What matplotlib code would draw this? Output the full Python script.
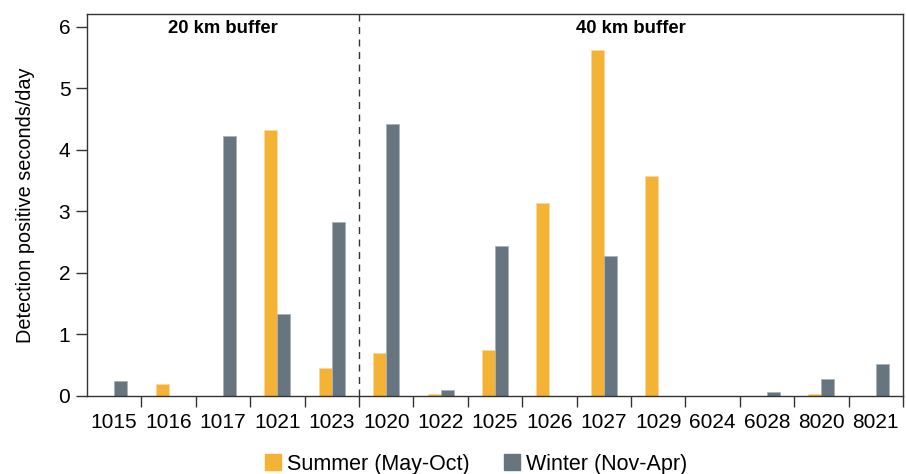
import numpy as np
import matplotlib.pyplot as plt
from matplotlib.patches import Patch

plt.rcParams['font.family'] = ['Liberation Sans', 'DejaVu Sans']

# receivers, grouped by buffer distance
sites = ["1015", "1016", "1017", "1021", "1023",
         "1020", "1022", "1025", "1026", "1027", "1029", "6024", "6028", "8020", "8021"]
summer = [0, 0.2, 0, 4.33, 0.45,
          0.7, 0.03, 0.75, 3.14, 5.62, 3.57, 0, 0, 0.03, 0]
winter = [0.25, 0, 4.22, 1.33, 2.83,
          4.42, 0.1, 2.44, 0, 2.28, 0, 0, 0.07, 0.27, 0.52]
n_near = 5  # first five sites are in the 20 km buffer

c_summer = "#F5B335"
c_winter = "#66757F"

fig = plt.figure(figsize=(9.06, 4.74), dpi=100)
ax = fig.add_axes([0.096, 0.1646, 0.9007, 0.8059])

x = np.arange(len(sites))
w = 0.24
ax.bar(x - w / 2, summer, w, color=c_summer, edgecolor="#FAD9A0", linewidth=0.6)
ax.bar(x + w / 2, winter, w, color=c_winter, edgecolor="#A9B2B8", linewidth=0.6)

ax.set_xlim(-0.5, len(sites) - 0.5)
ax.set_ylim(0, 6.21)
ax.set_yticks(range(7))
ax.set_xticks(x)
ax.set_xticklabels(sites)
ax.tick_params(axis="x", length=0, labelsize=15, pad=12)
# tick marks sit on the category boundaries
ax.set_xticks(np.arange(len(sites)) + 0.5, minor=True)
ax.tick_params(axis="x", which="minor", length=8, width=1, color="#333333")
ax.tick_params(axis="y", length=8, width=1, labelsize=15, pad=4, color="#333333")

for s in ax.spines.values():
    s.set_color("#333333")
    s.set_linewidth(1)

ax.axvline(n_near - 0.5, color="#333333", ls=(0, (5, 4)), lw=1)
ax.text((n_near - 1) / 2, 5.97, "20 km buffer", ha="center", va="center",
        fontsize=13.3, fontweight="bold")
ax.text((n_near + len(sites) - 1) / 2, 5.97, "40 km buffer", ha="center", va="center",
        fontsize=13.3, fontweight="bold")

ax.set_ylabel("Detection positive seconds/day", fontsize=14.3, labelpad=17)

handles = [Patch(color=c_summer, label="Summer (May-Oct)"),
           Patch(color=c_winter, label="Winter (Nov-Apr)")]
fig.legend(handles=handles, loc="lower center", bbox_to_anchor=(0.526, -0.042), ncol=2,
           frameon=False, fontsize=15.5, handlelength=0.72, handleheight=0.72,
           handletextpad=0.3, columnspacing=1.6)

fig.savefig("out.png", dpi=100)
